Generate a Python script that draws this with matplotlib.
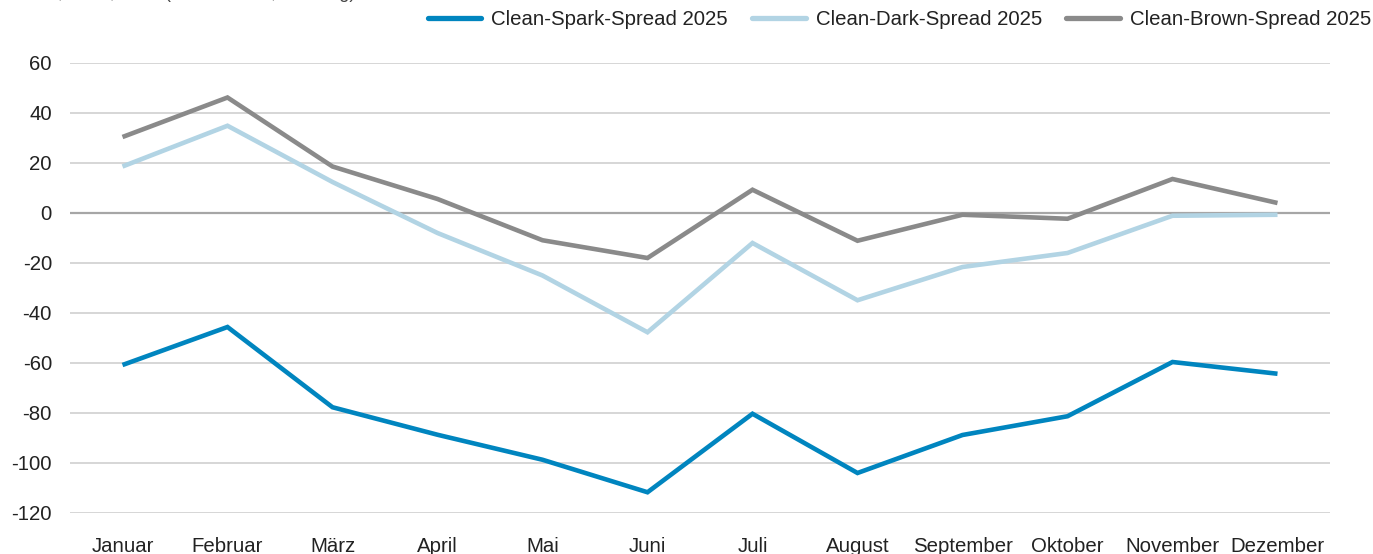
import matplotlib
matplotlib.use("Agg")
import matplotlib.pyplot as plt
from matplotlib.lines import Line2D

months = ["Januar", "Februar", "März", "April", "Mai", "Juni", "Juli",
          "August", "September", "Oktober", "November", "Dezember"]
spark = [-60.8, -45.6, -77.7, -88.7, -98.7, -111.7, -80.3, -104.0, -88.8, -81.3, -59.6, -64.3]
dark = [18.6, 34.9, 12.4, -8.0, -25.0, -47.7, -12.0, -34.9, -21.6, -16.0, -1.1, -0.7]
brown = [30.4, 46.2, 18.6, 5.6, -10.9, -18.0, 9.3, -11.1, -0.7, -2.3, 13.6, 4.0]
series_names = ["Clean-Spark-Spread 2025", "Clean-Dark-Spread 2025", "Clean-Brown-Spread 2025"]
yticks = [60, 40, 20, 0, -20, -40, -60, -80, -100, -120]
unit_text = "Euro, MWh, 2025 (Durchschnitt, vorläufig)"

colors = ["#0085BF", "#B2D4E4", "#8A8A8A"]

plt.rcParams['font.family'] = ['Liberation Sans', 'DejaVu Sans']

W, H = 1373, 554
fig = plt.figure(figsize=(W / 100, H / 100), dpi=100)
ax = fig.add_axes([70 / W, (H - 513) / H, (1330 - 70) / W, (513 - 63) / H])

x = list(range(len(months)))
ax.set_xlim(-0.5, len(months) - 0.5)
ax.set_ylim(-120, 60)

for v in yticks:
    if v == 0:
        ax.axhline(v, color="#A6A6A6", lw=1.6, zorder=1)
    else:
        ax.axhline(v, color="#CCCCCC", lw=1.1, zorder=1)

lw = 3.3
for data, c, name in zip([spark, dark, brown], colors, series_names):
    ax.plot(x, data, color=c, lw=lw, solid_joinstyle='miter',
            solid_capstyle='butt', label=name, zorder=3)

for s in ax.spines.values():
    s.set_visible(False)
ax.set_yticks(yticks)
ax.set_yticklabels([str(v) for v in yticks])
ax.set_xticks(x)
ax.set_xticklabels(months)
ax.tick_params(axis='y', length=0, pad=13, labelsize=14.7, labelcolor="#222222")
ax.tick_params(axis='x', length=0, pad=17, labelsize=14.7, labelcolor="#222222")

handles = [Line2D([], [], color=c, lw=3.8, solid_capstyle='round') for c in colors]
fig.legend(handles, series_names, loc='upper right',
           bbox_to_anchor=(1371 / W, 1 - 10 / H), ncol=3, frameon=False,
           fontsize=14.7, handlelength=2.6, handletextpad=0.5,
           columnspacing=1.2, borderpad=0, borderaxespad=0,
           labelcolor="#222222")

fig.text(20 / W, 1 + 1.5 / H, unit_text, fontsize=13, color="#444444",
         ha='left', va='baseline')

fig.savefig("out.png", dpi=100)
